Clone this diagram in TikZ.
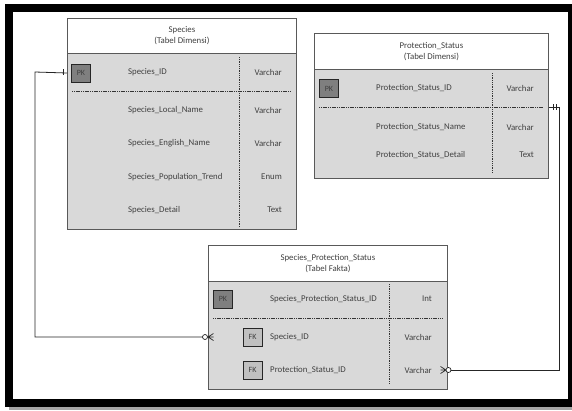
\documentclass[tikz,border=0pt]{standalone}
\usepackage{fontspec}
\setmainfont{Carlito}
\definecolor{bodygray}{HTML}{D9D9D9}
\definecolor{bordergray}{HTML}{595959}
\definecolor{pkgray}{HTML}{7F7F7F}
\definecolor{fkgray}{HTML}{C0C0C0}
\definecolor{txt}{HTML}{404040}
\begin{document}
\begin{tikzpicture}[x=1pt,y=-1pt,
  tbl/.style={draw=bordergray, line width=0.8pt, fill=bodygray, inner sep=0pt, anchor=north west},
  hdr/.style={draw=bordergray, line width=0.8pt, fill=white, inner sep=0pt, anchor=north west},
  keybox/.style={draw=black!85, line width=0.7pt, minimum width=19pt, minimum height=18pt, inner sep=0pt, text=black!75, font=\fontsize{8}{9}\selectfont},
  pkbox/.style={keybox, fill=pkgray},
  fkbox/.style={keybox, fill=fkgray},
  fld/.style={anchor=west, inner sep=0pt, text=txt, font=\fontsize{8.8}{10}\selectfont},
  typ/.style={anchor=east, inner sep=0pt, text=txt, font=\fontsize{8.8}{10}\selectfont},
  hd/.style={align=center, inner sep=0pt, text=txt, font=\fontsize{8.8}{10.8}\selectfont},
  sepv/.style={draw=black!80, line width=0.6pt, dash pattern=on 1pt off 0.8pt},
  seph/.style={draw=black!80, line width=0.6pt, dash pattern=on 1.2pt off 0.6pt},
  conn/.style={draw=black!85, line width=0.8pt},
  tickmk/.style={draw=black!85, line width=0.7pt}]
% frame
\useasboundingbox (0,0) rectangle (572,410);
\fill[white] (0,0) rectangle (572,410);
\fill[black!35] (9,404) rectangle (572,410);
\fill[black] (5,3.5) rectangle (572,407);
\fill[white] (13,11.5) rectangle (568,399);

% ---------- Species ----------
\node[tbl, minimum width=229pt, minimum height=211pt] (sp) at (67,18) {};
\node[hdr, minimum width=229pt, minimum height=35pt] (sph) at (67,18) {};
\node[hd] (spt) at (sph.center) {Species\\(Tabel Dimensi)};
\draw[sepv] (239,57) -- (239,227);
\draw[seph] (72,91) -- (290,91);
\node[pkbox] (sppk) at (81,73) {PK};
\node[fld] (sp1) at (128,72) {Species\_ID};
\node[typ] (sp1t) at (282,72) {Varchar};
\node[fld] (sp2) at (128,110) {Species\_Local\_Name};
\node[typ] (sp2t) at (282,110) {Varchar};
\node[fld] (sp3) at (128,143) {Species\_English\_Name};
\node[typ] (sp3t) at (282,143) {Varchar};
\node[fld] (sp4) at (128,177) {Species\_Population\_Trend};
\node[typ] (sp4t) at (282,177) {Enum};
\node[fld] (sp5) at (128,210) {Species\_Detail};
\node[typ] (sp5t) at (282,210) {Text};

% ---------- Protection_Status ----------
\node[tbl, minimum width=234pt, minimum height=145pt] (ps) at (314,33) {};
\node[hdr, minimum width=234pt, minimum height=36pt] (psh) at (314,33) {};
\node[hd] (pst) at (psh.center) {Protection\_Status\\(Tabel Dimensi)};
\draw[sepv] (492,73) -- (492,173);
\draw[seph] (319,107) -- (543,107);
\node[pkbox] (pspk) at (329,88.5) {PK};
\node[fld] (ps1) at (376,88) {Protection\_Status\_ID};
\node[typ] (ps1t) at (534,88) {Varchar};
\node[fld] (ps2) at (376,127) {Protection\_Status\_Name};
\node[typ] (ps2t) at (534,127) {Varchar};
\node[fld] (ps3) at (376,155) {Protection\_Status\_Detail};
\node[typ] (ps3t) at (534,155) {Text};

% ---------- Species_Protection_Status ----------
\node[tbl, minimum width=239pt, minimum height=144pt] (sps) at (208,245) {};
\node[hdr, minimum width=239pt, minimum height=36pt] (spsh) at (208,245) {};
\node[hd] (spst) at (spsh.center) {Species\_Protection\_Status\\(Tabel Fakta)};
\draw[sepv] (389,284) -- (389,384);
\draw[seph] (213,318) -- (442,318);
\node[pkbox] (spspk) at (223,299) {PK};
\node[fld] (sps1) at (270,299) {Species\_Protection\_Status\_ID};
\node[typ] (sps1t) at (432,299) {Int};
\node[fkbox] (spsfk1) at (252.5,337) {FK};
\node[fld] (sps2) at (270,337) {Species\_ID};
\node[typ] (sps2t) at (432,337) {Varchar};
\node[fkbox] (spsfk2) at (252.5,370) {FK};
\node[fld] (sps3) at (270,370) {Protection\_Status\_ID};
\node[typ] (sps3t) at (432,370) {Varchar};

% ---------- connectors ----------
\coordinate (bendA) at (35,72);
\draw[conn] (sp.west |- sppk) -- (bendA) |- (sps.west |- spsfk1);
\draw[tickmk] (63,69) -- (63,75);
\draw[tickmk] (208,337) -- (213.5,333.5) (208,337) -- (213.5,340.5) (208,337) -- (213.5,337);
\draw[tickmk, fill=white] (205,337) circle (2.5pt);

\coordinate (bendB) at (559,107);
\draw[conn] (ps.east |- bendB) -- (bendB) |- (sps.east |- spsfk2);
\draw[tickmk] (553,104) -- (553,110) (556,104) -- (556,110);
\draw[tickmk] (446,370) -- (440.5,366.5) (446,370) -- (440.5,373.5) (446,370) -- (440.5,370);
\draw[tickmk, fill=white] (448.5,370) circle (2.5pt);
\end{tikzpicture}
\end{document}
